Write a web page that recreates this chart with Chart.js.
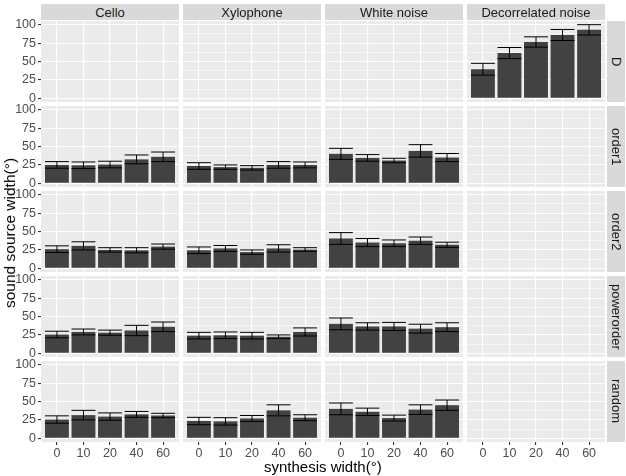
<!DOCTYPE html>
<html>
<head>
<meta charset="utf-8">
<script src="https://cdn.jsdelivr.net/npm/chart.js@4/dist/chart.umd.min.js"></script>
<style>
  body { margin: 0; background: #fff; }
  #wrap { position: relative; width: 626px; height: 476px; overflow: hidden; font-family: "Liberation Sans", Arial, sans-serif; }
  #wrap canvas { position: absolute; }
  .strip { position: absolute; background: #d9d9d9; color: #1a1a1a; font-size: 13px; display: flex; align-items: center; justify-content: center; }
  .strip.side { writing-mode: vertical-rl; }
  .title { position: absolute; color: #000; font-size: 15px; white-space: nowrap; }
</style>
</head>
<body>
<div id="wrap"></div>
<script>
const widths = ['0', '10', '20', '40', '60'];
const instruments = ['Cello', 'Xylophone', 'White noise', 'Decorrelated noise'];
const methods = ['D', 'order1', 'order2', 'powerorder', 'random'];

// mean sound source width per instrument (null = no data in that panel)
const meanD = [null, null, null, [39.5, 61.5, 76.5, 86, 93]];
const errD = [null, null, null, [8, 7.5, 7, 7.5, 7]];
const meanOrder1 = [[25, 24.5, 25.5, 32.5, 36], [23.5, 22, 21, 25, 25], [40, 34.5, 31, 44, 35], null];
const errOrder1 = [[4.5, 4.5, 4.5, 6, 6.5], [4.5, 3, 3, 4.5, 4], [7.5, 4.5, 3, 8.5, 5.5], null];
const meanOrder2 = [[26, 30.5, 25, 24.5, 29.5], [24.5, 27, 22, 27, 25.5], [40.5, 35, 34, 37.5, 32], null];
const errOrder2 = [[4.5, 5.5, 3, 3.5, 3.5], [4.5, 4, 3, 5, 2.5], [8, 5.5, 4.5, 5, 3.5], null];
const meanPower = [[25.5, 29, 28, 31, 36], [24, 24.5, 24, 22.5, 29], [40, 36.5, 36.5, 33.5, 35.5], null];
const errPower = [[4.5, 4, 3.5, 7, 6.5], [4.5, 4.5, 4.5, 2.5, 5.5], [8, 5, 5.5, 6, 6], null];
const meanRandom = [[25.5, 31.5, 29.5, 32.5, 31], [23.5, 23, 27, 38, 28], [40, 36, 27.5, 39, 45], null];
const errRandom = [[5, 6.5, 5, 4, 3], [5, 5, 4, 7.5, 4], [8, 5, 4, 6.5, 7], null];

const yTicks = [0, 12.5, 25, 37.5, 50, 62.5, 75, 87.5, 100];

const means = [meanD, meanOrder1, meanOrder2, meanPower, meanRandom];
const errs = [errD, errOrder1, errOrder2, errPower, errRandom];

const P = 8, YW = 41, XH = 20, PW = 138, PH = 81;
const colX = [41, 183, 325, 467];
const rowY = [21, 106, 191, 276, 361];
const wrap = document.getElementById('wrap');

const panelBg = {
  id: 'panelBg',
  beforeDraw(chart) {
    const a = chart.chartArea, ctx = chart.ctx;
    ctx.save();
    ctx.fillStyle = '#ebebeb';
    ctx.fillRect(a.left, a.top, a.right - a.left, a.bottom - a.top);
    ctx.restore();
  }
};

const errorBars = {
  id: 'errorBars',
  afterDatasetsDraw(chart) {
    const ctx = chart.ctx, ys = chart.scales.y;
    chart.data.datasets.forEach((ds, di) => {
      const meta = chart.getDatasetMeta(di);
      ds.err.forEach((e, i) => {
        const bar = meta.data[i];
        const m = ds.data[i].y;
        const half = bar.width / 2;
        const top = ys.getPixelForValue(m + e), bot = ys.getPixelForValue(m - e);
        ctx.save();
        ctx.strokeStyle = '#000';
        ctx.lineWidth = 1;
        ctx.beginPath();
        ctx.moveTo(bar.x - half, top); ctx.lineTo(bar.x + half, top);
        ctx.moveTo(bar.x - half, bot); ctx.lineTo(bar.x + half, bot);
        ctx.moveTo(bar.x, top); ctx.lineTo(bar.x, bot);
        ctx.stroke();
        ctx.restore();
      });
    });
  }
};

methods.forEach((method, r) => {
  instruments.forEach((inst, c) => {
    const left = c === 0;
    const bottom = r === methods.length - 1;
    const canvas = document.createElement('canvas');
    const w = PW + 2 * P + (left ? YW : 0);
    const h = PH + 2 * P + (bottom ? XH : 0);
    canvas.width = w; canvas.height = h;
    canvas.style.left = (colX[c] - P - (left ? YW : 0)) + 'px';
    canvas.style.top = (rowY[r] - P) + 'px';
    wrap.appendChild(canvas);

    const vals = means[r][c];
    const datasets = vals ? [{
      data: vals.map((v, i) => ({ x: i, y: v })),
      err: errs[r][c],
      backgroundColor: '#424242',
      borderWidth: 0,
      barPercentage: 0.9,
      categoryPercentage: 1
    }] : [];

    new Chart(canvas, {
      type: 'bar',
      data: { datasets },
      options: {
        responsive: false,
        animation: false,
        events: [],
        layout: { padding: P },
        plugins: { legend: { display: false }, tooltip: { enabled: false } },
        scales: {
          x: {
            type: 'linear',
            min: -0.6, max: 4.6,
            offset: false,
            grid: { offset: false, color: '#fff', lineWidth: 1.1, drawTicks: bottom, tickLength: 3, tickColor: '#333' },
            border: { display: false },
            ticks: { display: bottom, padding: 1, color: '#4d4d4d', font: { family: 'Liberation Sans', size: 12.5 }, callback: v => widths[v] },
            afterBuildTicks: s => { s.ticks = widths.map((_, i) => ({ value: i })); },
            afterFit: s => { s.height = bottom ? XH : 0; s.paddingLeft = s.paddingRight = 0; }
          },
          y: {
            min: -5, max: 105,
            grid: {
              color: '#fff',
              lineWidth: ctx => ctx.tick && ctx.tick.value % 25 === 0 ? 1.1 : 0.5,
              drawTicks: left, tickLength: 3,
              tickColor: ctx => ctx.tick && ctx.tick.value % 25 === 0 ? '#333' : 'rgba(0,0,0,0)'
            },
            border: { display: false },
            ticks: { display: left, padding: 2, color: '#4d4d4d', font: { family: 'Liberation Sans', size: 12.5 }, callback: v => v % 25 === 0 ? String(v) : '' },
            afterBuildTicks: s => { s.ticks = yTicks.map(v => ({ value: v })); },
            afterFit: s => { s.width = left ? YW : 0; s.paddingTop = s.paddingBottom = 0; }
          }
        }
      },
      plugins: [panelBg, errorBars]
    });
  });
});

// facet strips
instruments.forEach((inst, c) => {
  const d = document.createElement('div');
  d.className = 'strip';
  d.style.left = colX[c] + 'px'; d.style.top = '4px';
  d.style.width = PW + 'px'; d.style.height = '16px';
  d.textContent = inst;
  wrap.appendChild(d);
});
methods.forEach((m, r) => {
  const d = document.createElement('div');
  d.className = 'strip side';
  d.style.left = '607px'; d.style.top = rowY[r] + 'px';
  d.style.width = '18px'; d.style.height = PH + 'px';
  d.textContent = m;
  wrap.appendChild(d);
});

// axis titles
const xt = document.createElement('div');
xt.className = 'title';
xt.textContent = 'synthesis width(°)';
wrap.appendChild(xt);
xt.style.left = (323 - xt.offsetWidth / 2) + 'px';
xt.style.top = '458px';

const yt = document.createElement('div');
yt.className = 'title';
yt.style.fontSize = '15.5px';
yt.textContent = 'sound source width(°)';
wrap.appendChild(yt);
yt.style.left = (10 - yt.offsetWidth / 2) + 'px';
yt.style.top = (233 - yt.offsetHeight / 2) + 'px';
yt.style.transform = 'rotate(-90deg)';
</script>
</body>
</html>
